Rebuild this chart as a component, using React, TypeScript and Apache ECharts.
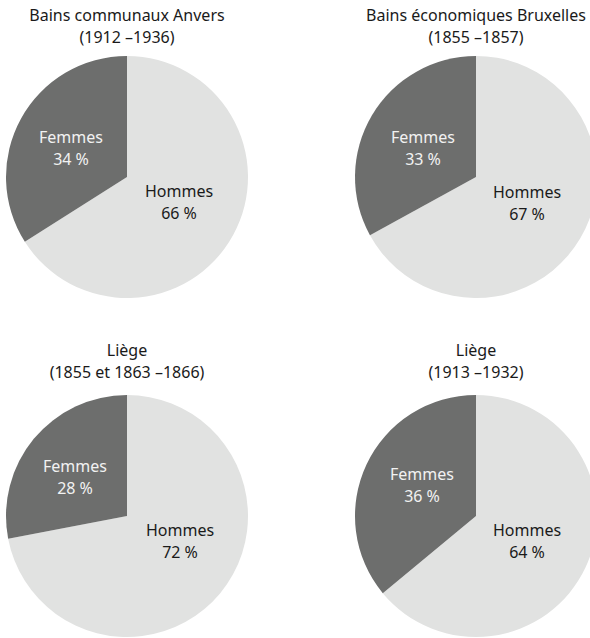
import React, { useEffect, useRef } from "react";
import * as echarts from "echarts";

const titles = [
  "Bains communaux Anvers",
  "Bains économiques Bruxelles",
  "Liège",
  "Liège",
];
const periods = ["(1912 –1936)", "(1855 –1857)", "(1855 et 1863 –1866)", "(1913 –1932)"];
const categories = ["Hommes", "Femmes"];
const hommes = [66, 67, 72, 64];
const femmes = [34, 33, 28, 36];

// layout (pixels)
const centers: [number, number][] = [
  [127, 177],
  [476, 177],
  [127, 516],
  [476, 516],
];
const titleTops = [4, 4, 339, 339];
const hommesOffsets: [number, number][] = [
  [52, 25],
  [51, 26],
  [53, 25],
  [51, 25],
];
const femmesOffsets: [number, number][] = [
  [-56, -29],
  [-53, -29],
  [-52, -39],
  [-54, -31],
];

const FONT = "'Noto Sans', sans-serif";

export default function App() {
  const ref = useRef<HTMLDivElement>(null);
  useEffect(() => {
    if (!ref.current) return;
    const chart = echarts.init(ref.current, undefined, { renderer: "svg" });
    const option: any = {
      animation: false,
      backgroundColor: "#ffffff",
      title: titles.map((t, i) => ({
        text: t + "\n" + periods[i],
        left: centers[i][0],
        top: titleTops[i],
        textAlign: "center",
        padding: 0,
        textStyle: {
          fontFamily: FONT,
          fontSize: 16,
          fontWeight: "normal",
          color: "#1a1a1a",
          lineHeight: 22,
        },
      })),
      series: centers.map((c, i) => ({
        type: "pie",
        center: c,
        radius: 121,
        startAngle: 90,
        clockwise: true,
        silent: true,
        label: {
          show: true,
          position: "center",
          fontFamily: FONT,
          fontSize: 16,
          lineHeight: 22,
          formatter: (p: any) => p.name + "\n" + p.value + " %",
        },
        labelLine: { show: false },
        itemStyle: { borderWidth: 0 },
        data: [
          {
            name: categories[0],
            value: hommes[i],
            itemStyle: { color: "#e1e2e1" },
            label: { color: "#1a1a1a", offset: hommesOffsets[i] },
          },
          {
            name: categories[1],
            value: femmes[i],
            itemStyle: { color: "#6d6e6d" },
            label: { color: "#f2f2f2", offset: femmesOffsets[i] },
          },
        ],
      })),
    };
    chart.setOption(option);
    return () => chart.dispose();
  }, []);
  return (
    <div
      ref={ref}
      style={{ position: "absolute", left: 0, top: 0, width: 590, height: 638 }}
    />
  );
}
